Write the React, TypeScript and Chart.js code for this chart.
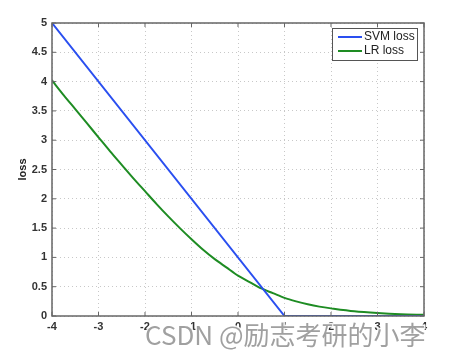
import React, { useEffect, useRef } from "react";
import { Chart, registerables } from "chart.js";

Chart.register(...registerables);

const xTicks = [-4, -3, -2, -1, 0, 1, 2, 3, 4];
const yTicks = [0, 0.5, 1, 1.5, 2, 2.5, 3, 3.5, 4, 4.5, 5];

const svmX = [-4, 1, 4];
const svmY = [5, 0, 0];

const lrX = [-4, -3.75, -3.5, -3.25, -3, -2.75, -2.5, -2.25, -2, -1.75, -1.5, -1.25, -1, -0.75, -0.5, -0.25, 0, 0.25, 0.5, 0.75, 1, 1.25, 1.5, 1.75, 2, 2.5, 3, 3.5, 4];
const lrY = [4.02, 3.77, 3.53, 3.29, 3.05, 2.81, 2.58, 2.35, 2.13, 1.91, 1.70, 1.50, 1.31, 1.13, 0.97, 0.83, 0.69, 0.58, 0.47, 0.39, 0.31, 0.25, 0.20, 0.16, 0.13, 0.08, 0.05, 0.03, 0.02];

const seriesNames = ["SVM loss", "LR loss"];
const seriesColors = ["#2a4ff0", "#1e8c23"];
const yTitle = "loss";
const watermark = "CSDN @励志考研的小李";

const FONT = "'Liberation Sans', Arial, sans-serif";

const framePlugin = {
  id: "frame",
  afterDatasetsDraw(chart: any) {
    const { ctx, chartArea: a, scales } = chart;
    ctx.save();
    ctx.strokeStyle = "#666";
    ctx.lineWidth = 1.5;
    ctx.strokeRect(a.left, a.top, a.right - a.left, a.bottom - a.top);
    ctx.lineWidth = 1;
    const tl = 4;
    xTicks.forEach((v) => {
      const px = scales.x.getPixelForValue(v);
      ctx.beginPath();
      ctx.moveTo(px, a.bottom);
      ctx.lineTo(px, a.bottom - tl);
      ctx.moveTo(px, a.top);
      ctx.lineTo(px, a.top + tl);
      ctx.stroke();
    });
    yTicks.forEach((v) => {
      const py = scales.y.getPixelForValue(v);
      ctx.beginPath();
      ctx.moveTo(a.left, py);
      ctx.lineTo(a.left + tl, py);
      ctx.moveTo(a.right, py);
      ctx.lineTo(a.right - tl, py);
      ctx.stroke();
    });
    // legend
    const lx = 332, ly = 28, lw = 85, lh = 32;
    ctx.fillStyle = "#fff";
    ctx.fillRect(lx, ly, lw, lh);
    ctx.strokeStyle = "#555";
    ctx.lineWidth = 1;
    ctx.strokeRect(lx + 0.5, ly + 0.5, lw, lh);
    ctx.font = `12px ${FONT}`;
    ctx.textBaseline = "middle";
    ctx.textAlign = "left";
    seriesNames.forEach((name, i) => {
      const yy = ly + 9 + i * 14;
      ctx.strokeStyle = seriesColors[i];
      ctx.lineWidth = 2;
      ctx.beginPath();
      ctx.moveTo(lx + 6, yy);
      ctx.lineTo(lx + 30, yy);
      ctx.stroke();
      ctx.fillStyle = "#222";
      ctx.fillText(name, lx + 32, yy);
    });
    ctx.restore();
  },
  afterDraw(chart: any) {
    const { ctx } = chart;
    ctx.save();
    ctx.font = `26px 'Noto Sans CJK SC', 'Noto Sans', sans-serif`;
    ctx.textBaseline = "alphabetic";
    ctx.textAlign = "left";
    ctx.lineWidth = 3;
    ctx.strokeStyle = "rgba(255,255,255,0.9)";
    ctx.strokeText(watermark, 145, 345);
    ctx.fillStyle = "#a0a0a0";
    ctx.fillText(watermark, 145, 345);
    ctx.restore();
  },
};

export default function App() {
  const ref = useRef<HTMLCanvasElement>(null);
  useEffect(() => {
    document.body.style.margin = "0";
    const chart = new Chart(ref.current!, {
      type: "scatter",
      data: {
        datasets: [
          {
            label: seriesNames[0],
            data: svmX.map((x, i) => ({ x, y: svmY[i] })),
            showLine: true,
            borderColor: seriesColors[0],
            borderWidth: 2,
            pointRadius: 0,
          },
          {
            label: seriesNames[1],
            data: lrX.map((x, i) => ({ x, y: lrY[i] })),
            showLine: true,
            borderColor: seriesColors[1],
            borderWidth: 2,
            pointRadius: 0,
            tension: 0.3,
          },
        ],
      },
      options: {
        responsive: false,
        animation: false,
        layout: { padding: { top: 23, right: 26, left: 0, bottom: 0 } },
        plugins: { legend: { display: false }, tooltip: { enabled: false } },
        scales: {
          x: {
            type: "linear",
            min: -4,
            max: 4,
            afterBuildTicks: (s: any) => {
              s.ticks = xTicks.map((v) => ({ value: v }));
            },
            afterFit: (s: any) => {
              s.height = 42;
            },
            grid: { color: "#c8c8c8", drawTicks: false } as any,
            border: { display: false, dash: [1, 3] } as any,
            ticks: { padding: 4, color: "#333", font: { size: 11, family: FONT, weight: "bold" }, callback: (v: any) => String(v) },
          },
          y: {
            type: "linear",
            min: 0,
            max: 5,
            afterBuildTicks: (s: any) => {
              s.ticks = yTicks.map((v) => ({ value: v }));
            },
            afterFit: (s: any) => {
              s.width = 52;
            },
            grid: { color: "#c8c8c8", drawTicks: false } as any,
            border: { display: false, dash: [1, 3] } as any,
            title: { display: true, text: yTitle, color: "#222", padding: { top: 16, bottom: 0 }, font: { size: 11, family: FONT, weight: "bold" } },
            ticks: { padding: 5, color: "#333", font: { size: 11, family: FONT, weight: "bold" }, callback: (v: any) => String(v) },
          },
        },
      },
      plugins: [framePlugin],
    } as any);
    return () => chart.destroy();
  }, []);
  return <canvas ref={ref} width={450} height={358} style={{ display: "block" }} />;
}
